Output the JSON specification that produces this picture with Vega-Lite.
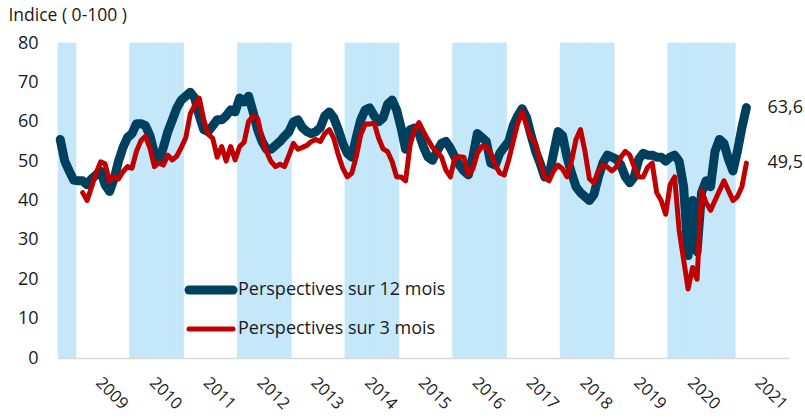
{
"$schema": "https://vega.github.io/schema/vega-lite/v6.json",
"width": 731, "height": 315,
"autosize": {"type": "none"},
"padding": {"left": 58, "top": 43, "right": 16, "bottom": 60},
"background": "white",
"config": {
  "font": "Open Sans",
  "view": {"stroke": null},
  "locale": {"number": {"decimal": ",", "thousands": " ", "grouping": [3], "currency": ["", " €"]}},
  "axis": {"labelFont": "Open Sans", "labelFontSize": 18, "labelColor": "#1a1a1a"}
},
"title": {"text": "Indice ( 0-100 )", "anchor": "start", "frame": "bounds", "fontSize": 17.5, "fontWeight": "normal", "font": "Open Sans", "color": "#1a1a1a", "offset": 10, "dx": -9},
"data": {"values": [
{"periode":"2008-09","annee":2008,"p12":55.5,"p3":null},
{"periode":"2008-10","annee":2008,"p12":50,"p3":null},
{"periode":"2008-11","annee":2008,"p12":47.5,"p3":null},
{"periode":"2008-12","annee":2008,"p12":45.2,"p3":null},
{"periode":"2009-01","annee":2009,"p12":45,"p3":null},
{"periode":"2009-02","annee":2009,"p12":45,"p3":42},
{"periode":"2009-03","annee":2009,"p12":44,"p3":40},
{"periode":"2009-04","annee":2009,"p12":45.5,"p3":43.5},
{"periode":"2009-05","annee":2009,"p12":46.5,"p3":47},
{"periode":"2009-06","annee":2009,"p12":47.5,"p3":49.8},
{"periode":"2009-07","annee":2009,"p12":44,"p3":49.3},
{"periode":"2009-08","annee":2009,"p12":42.3,"p3":44.8},
{"periode":"2009-09","annee":2009,"p12":45.5,"p3":46},
{"periode":"2009-10","annee":2009,"p12":50,"p3":45.5},
{"periode":"2009-11","annee":2009,"p12":53.5,"p3":47.3},
{"periode":"2009-12","annee":2009,"p12":56,"p3":48.6},
{"periode":"2010-01","annee":2010,"p12":57,"p3":48.2},
{"periode":"2010-02","annee":2010,"p12":59.5,"p3":52.5},
{"periode":"2010-03","annee":2010,"p12":59.5,"p3":55.2},
{"periode":"2010-04","annee":2010,"p12":59,"p3":56.3},
{"periode":"2010-05","annee":2010,"p12":56.5,"p3":53.3},
{"periode":"2010-06","annee":2010,"p12":52,"p3":48.6},
{"periode":"2010-07","annee":2010,"p12":50,"p3":49.6},
{"periode":"2010-08","annee":2010,"p12":53.5,"p3":49},
{"periode":"2010-09","annee":2010,"p12":57.5,"p3":51.5},
{"periode":"2010-10","annee":2010,"p12":60.5,"p3":50.3},
{"periode":"2010-11","annee":2010,"p12":63.5,"p3":51.3},
{"periode":"2010-12","annee":2010,"p12":65.5,"p3":53.5},
{"periode":"2011-01","annee":2011,"p12":66.5,"p3":56},
{"periode":"2011-02","annee":2011,"p12":67.5,"p3":62},
{"periode":"2011-03","annee":2011,"p12":66,"p3":64.2},
{"periode":"2011-04","annee":2011,"p12":61.5,"p3":66},
{"periode":"2011-05","annee":2011,"p12":58,"p3":60.5},
{"periode":"2011-06","annee":2011,"p12":57.5,"p3":56.8},
{"periode":"2011-07","annee":2011,"p12":59,"p3":55.8},
{"periode":"2011-08","annee":2011,"p12":60.5,"p3":51},
{"periode":"2011-09","annee":2011,"p12":60.5,"p3":53.7},
{"periode":"2011-10","annee":2011,"p12":61.5,"p3":50},
{"periode":"2011-11","annee":2011,"p12":63,"p3":53.7},
{"periode":"2011-12","annee":2011,"p12":62.5,"p3":50.3},
{"periode":"2012-01","annee":2012,"p12":66,"p3":53.7},
{"periode":"2012-02","annee":2012,"p12":65,"p3":54.8},
{"periode":"2012-03","annee":2012,"p12":66.5,"p3":60.1},
{"periode":"2012-04","annee":2012,"p12":62.5,"p3":61.4},
{"periode":"2012-05","annee":2012,"p12":58,"p3":60.9},
{"periode":"2012-06","annee":2012,"p12":55,"p3":55.8},
{"periode":"2012-07","annee":2012,"p12":53,"p3":52.4},
{"periode":"2012-08","annee":2012,"p12":53,"p3":49.9},
{"periode":"2012-09","annee":2012,"p12":54,"p3":48.6},
{"periode":"2012-10","annee":2012,"p12":55,"p3":49.2},
{"periode":"2012-11","annee":2012,"p12":56.3,"p3":48.6},
{"periode":"2012-12","annee":2012,"p12":57.5,"p3":51.5},
{"periode":"2013-01","annee":2013,"p12":60,"p3":54.5},
{"periode":"2013-02","annee":2013,"p12":60.5,"p3":53},
{"periode":"2013-03","annee":2013,"p12":58.5,"p3":53.5},
{"periode":"2013-04","annee":2013,"p12":57.5,"p3":54},
{"periode":"2013-05","annee":2013,"p12":57,"p3":55},
{"periode":"2013-06","annee":2013,"p12":57.5,"p3":55.5},
{"periode":"2013-07","annee":2013,"p12":58.5,"p3":55},
{"periode":"2013-08","annee":2013,"p12":61.5,"p3":57},
{"periode":"2013-09","annee":2013,"p12":62.5,"p3":58},
{"periode":"2013-10","annee":2013,"p12":61,"p3":55.8},
{"periode":"2013-11","annee":2013,"p12":58,"p3":51.6},
{"periode":"2013-12","annee":2013,"p12":54.5,"p3":48.2},
{"periode":"2014-01","annee":2014,"p12":52,"p3":46},
{"periode":"2014-02","annee":2014,"p12":51,"p3":46.9},
{"periode":"2014-03","annee":2014,"p12":56,"p3":51.1},
{"periode":"2014-04","annee":2014,"p12":60.5,"p3":56.7},
{"periode":"2014-05","annee":2014,"p12":63,"p3":59.4},
{"periode":"2014-06","annee":2014,"p12":63.5,"p3":59.4},
{"periode":"2014-07","annee":2014,"p12":61.5,"p3":59.7},
{"periode":"2014-08","annee":2014,"p12":60,"p3":55.8},
{"periode":"2014-09","annee":2014,"p12":61,"p3":53.1},
{"periode":"2014-10","annee":2014,"p12":64.5,"p3":52.4},
{"periode":"2014-11","annee":2014,"p12":65.5,"p3":49.9},
{"periode":"2014-12","annee":2014,"p12":63,"p3":46},
{"periode":"2015-01","annee":2015,"p12":58.5,"p3":46},
{"periode":"2015-02","annee":2015,"p12":53,"p3":45},
{"periode":"2015-03","annee":2015,"p12":58,"p3":54},
{"periode":"2015-04","annee":2015,"p12":58.4,"p3":58},
{"periode":"2015-05","annee":2015,"p12":57,"p3":59.8},
{"periode":"2015-06","annee":2015,"p12":53.6,"p3":57.5},
{"periode":"2015-07","annee":2015,"p12":51,"p3":55.4},
{"periode":"2015-08","annee":2015,"p12":50.2,"p3":53.5},
{"periode":"2015-09","annee":2015,"p12":52.5,"p3":52.4},
{"periode":"2015-10","annee":2015,"p12":54.5,"p3":51.1},
{"periode":"2015-11","annee":2015,"p12":55,"p3":47.7},
{"periode":"2015-12","annee":2015,"p12":53.3,"p3":46},
{"periode":"2016-01","annee":2016,"p12":51,"p3":51},
{"periode":"2016-02","annee":2016,"p12":49,"p3":51.1},
{"periode":"2016-03","annee":2016,"p12":47.5,"p3":51},
{"periode":"2016-04","annee":2016,"p12":46.5,"p3":46.5},
{"periode":"2016-05","annee":2016,"p12":51,"p3":48},
{"periode":"2016-06","annee":2016,"p12":57,"p3":52},
{"periode":"2016-07","annee":2016,"p12":56,"p3":53.7},
{"periode":"2016-08","annee":2016,"p12":55,"p3":53.7},
{"periode":"2016-09","annee":2016,"p12":49.5,"p3":52},
{"periode":"2016-10","annee":2016,"p12":49,"p3":49},
{"periode":"2016-11","annee":2016,"p12":52,"p3":47},
{"periode":"2016-12","annee":2016,"p12":53.5,"p3":46.5},
{"periode":"2017-01","annee":2017,"p12":55,"p3":50.3},
{"periode":"2017-02","annee":2017,"p12":59,"p3":55},
{"periode":"2017-03","annee":2017,"p12":61.5,"p3":59.5},
{"periode":"2017-04","annee":2017,"p12":63.3,"p3":62.6},
{"periode":"2017-05","annee":2017,"p12":61,"p3":59},
{"periode":"2017-06","annee":2017,"p12":56.5,"p3":56},
{"periode":"2017-07","annee":2017,"p12":52.5,"p3":54.5},
{"periode":"2017-08","annee":2017,"p12":49.5,"p3":50},
{"periode":"2017-09","annee":2017,"p12":46,"p3":46},
{"periode":"2017-10","annee":2017,"p12":46.5,"p3":45},
{"periode":"2017-11","annee":2017,"p12":52,"p3":47.5},
{"periode":"2017-12","annee":2017,"p12":57.5,"p3":49},
{"periode":"2018-01","annee":2018,"p12":56.5,"p3":48},
{"periode":"2018-02","annee":2018,"p12":51,"p3":46},
{"periode":"2018-03","annee":2018,"p12":47,"p3":50},
{"periode":"2018-04","annee":2018,"p12":43.5,"p3":55.5},
{"periode":"2018-05","annee":2018,"p12":42,"p3":58},
{"periode":"2018-06","annee":2018,"p12":41,"p3":52.5},
{"periode":"2018-07","annee":2018,"p12":40,"p3":45.5},
{"periode":"2018-08","annee":2018,"p12":41.5,"p3":44.5},
{"periode":"2018-09","annee":2018,"p12":46,"p3":47.5},
{"periode":"2018-10","annee":2018,"p12":49.5,"p3":49},
{"periode":"2018-11","annee":2018,"p12":51.5,"p3":48.5},
{"periode":"2018-12","annee":2018,"p12":51,"p3":47.5},
{"periode":"2019-01","annee":2019,"p12":50.5,"p3":48.5},
{"periode":"2019-02","annee":2019,"p12":49,"p3":51},
{"periode":"2019-03","annee":2019,"p12":46,"p3":52.5},
{"periode":"2019-04","annee":2019,"p12":44.5,"p3":51.5},
{"periode":"2019-05","annee":2019,"p12":46,"p3":48.5},
{"periode":"2019-06","annee":2019,"p12":50.5,"p3":46},
{"periode":"2019-07","annee":2019,"p12":52,"p3":46},
{"periode":"2019-08","annee":2019,"p12":51.5,"p3":48.5},
{"periode":"2019-09","annee":2019,"p12":51.5,"p3":49.5},
{"periode":"2019-10","annee":2019,"p12":51,"p3":42},
{"periode":"2019-11","annee":2019,"p12":51,"p3":40},
{"periode":"2019-12","annee":2019,"p12":50,"p3":36.5},
{"periode":"2020-01","annee":2020,"p12":51,"p3":44},
{"periode":"2020-02","annee":2020,"p12":51.5,"p3":46},
{"periode":"2020-03","annee":2020,"p12":50,"p3":32.5},
{"periode":"2020-03b","annee":2020,"p12":43.5,"p3":25},
{"periode":"2020-04","annee":2020,"p12":26,"p3":17.5},
{"periode":"2020-04b","annee":2020,"p12":40,"p3":23},
{"periode":"2020-05","annee":2020,"p12":27,"p3":20},
{"periode":"2020-05b","annee":2020,"p12":42,"p3":42.5},
{"periode":"2020-06","annee":2020,"p12":45,"p3":39.5},
{"periode":"2020-07","annee":2020,"p12":43.5,"p3":37.5},
{"periode":"2020-08","annee":2020,"p12":52.5,"p3":40},
{"periode":"2020-09","annee":2020,"p12":55.5,"p3":42.5},
{"periode":"2020-10","annee":2020,"p12":54.5,"p3":45},
{"periode":"2020-11","annee":2020,"p12":50.5,"p3":42.5},
{"periode":"2020-12","annee":2020,"p12":47.5,"p3":40},
{"periode":"2021-01","annee":2021,"p12":52.5,"p3":41},
{"periode":"2021-02","annee":2021,"p12":58.5,"p3":43.5},
{"periode":"2021-03","annee":2021,"p12":63.6,"p3":49.5},
{"periode":"2021-04","annee":2021,"p12":null,"p3":null},
{"periode":"2021-05","annee":2021,"p12":null,"p3":null},
{"periode":"2021-06","annee":2021,"p12":null,"p3":null},
{"periode":"2021-07","annee":2021,"p12":null,"p3":null},
{"periode":"2021-08","annee":2021,"p12":null,"p3":null},
{"periode":"2021-09","annee":2021,"p12":null,"p3":null},
{"periode":"2021-10","annee":2021,"p12":null,"p3":null},
{"periode":"2021-11","annee":2021,"p12":null,"p3":null},
{"periode":"2021-12","annee":2021,"p12":null,"p3":null}
]},
"layer": [
  {
    "mark": {"type": "rect", "fill": "#C4E7FA", "stroke": "#C4E7FA", "strokeWidth": 0.8},
    "encoding": {
      "x": {"field": "periode", "type": "ordinal",
        "scale": {"paddingInner": 0, "paddingOuter": 0},
        "axis": {"title": null, "values": ["2009-07","2010-07","2011-07","2012-07","2013-07","2014-07","2015-07","2016-07","2017-07","2018-07","2019-07","2020-05","2021-07"],
          "labelExpr": "substring(datum.value, 0, 4)", "labelAngle": 45, "labelAlign": "left", "labelBaseline": "top",
          "labelFontSize": 16.5, "labelPadding": 16, "labelOffset": -1, "ticks": false, "grid": false, "domainColor": "#D9D9D9", "domainWidth": 1.5, "zindex": 1, "labelOverlap": false}},
      "y": {"datum": 0, "type": "quantitative",
        "scale": {"domain": [0, 80], "nice": false},
        "axis": {"title": null, "values": [0,10,20,30,40,50,60,70,80], "tickCount": 9, "labelOverlap": false, "domain": false, "ticks": false, "gridColor": "#D9D9D9", "gridWidth": 1.5, "labelPadding": 20}},
      "y2": {"datum": 80},
      "opacity": {"condition": {"test": "datum.annee % 2 == 0", "value": 1}, "value": 0}
    }
  },
  {
    "mark": {"type": "line", "strokeWidth": 9, "strokeCap": "round", "strokeJoin": "round"},
    "encoding": {
      "x": {"field": "periode", "type": "ordinal"},
      "y": {"field": "p12", "type": "quantitative"},
      "color": {"datum": "Perspectives sur 12 mois",
        "scale": {"domain": ["Perspectives sur 12 mois", "Perspectives sur 3 mois"], "range": ["#00405F", "#C00000"]},
        "legend": {"orient": "none", "legendX": 144, "legendY": 238, "title": null, "symbolType": "stroke", "symbolSize": 1936,
          "symbolStrokeWidth": 8, "labelFontSize": 18, "labelFont": "Open Sans", "labelColor": "#1a1a1a", "labelLimit": 400, "rowPadding": 11, "labelOffset": 18,
          "encode": {"symbols": {"update": {"strokeCap": {"value": "round"}, "strokeWidth": {"signal": "datum.value === 'Perspectives sur 12 mois' ? 9 : 5"}}}}}
      }
    }
  },
  {
    "mark": {"type": "line", "strokeWidth": 5, "strokeCap": "round", "strokeJoin": "round"},
    "encoding": {
      "x": {"field": "periode", "type": "ordinal"},
      "y": {"field": "p3", "type": "quantitative"},
      "color": {"datum": "Perspectives sur 3 mois"}
    }
  },
  {
    "transform": [{"filter": "datum.periode == '2021-03'"}],
    "mark": {"type": "text", "align": "left", "baseline": "middle", "dx": 21, "fontSize": 18, "font": "Open Sans", "color": "#1a1a1a"},
    "encoding": {
      "x": {"field": "periode", "type": "ordinal"},
      "y": {"field": "p12", "type": "quantitative"},
      "text": {"field": "p12", "type": "quantitative", "format": ".1f"}
    }
  },
  {
    "transform": [{"filter": "datum.periode == '2021-03'"}],
    "mark": {"type": "text", "align": "left", "baseline": "middle", "dx": 21, "fontSize": 18, "font": "Open Sans", "color": "#1a1a1a"},
    "encoding": {
      "x": {"field": "periode", "type": "ordinal"},
      "y": {"field": "p3", "type": "quantitative"},
      "text": {"field": "p3", "type": "quantitative", "format": ".1f"}
    }
  }
]
}
